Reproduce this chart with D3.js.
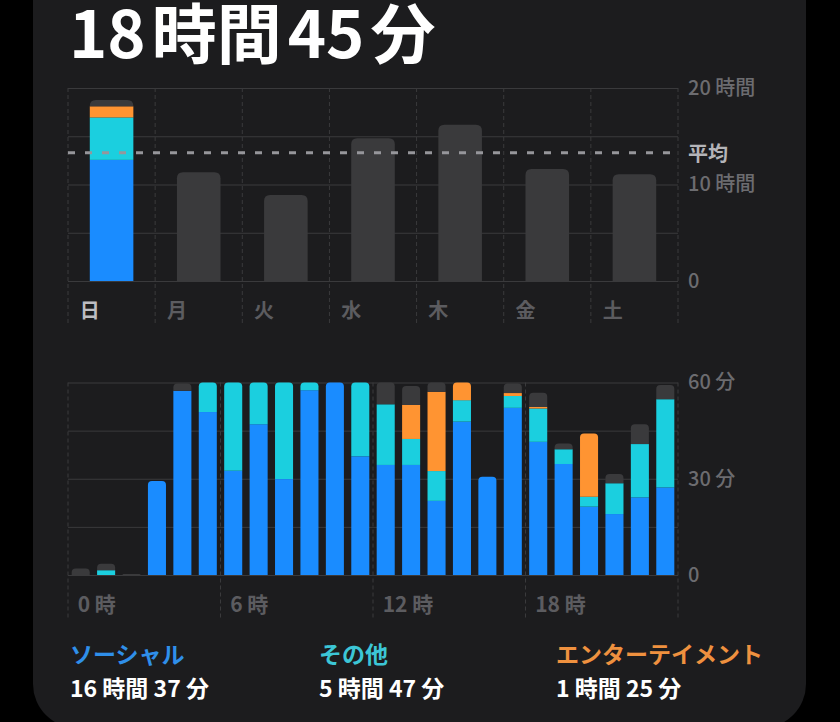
<!DOCTYPE html>
<html>
<head>
<meta charset="utf-8">
<script src="https://cdn.jsdelivr.net/npm/d3@7"></script>
<style>
  html, body { margin: 0; padding: 0; background: #000; }
  svg { display: block; font-family: "Noto Sans CJK JP", "Noto Sans", sans-serif; }
</style>
</head>
<body>
<svg id="chart"></svg>
<script>
// week chart (hours per day)
var days = ["日", "月", "火", "水", "木", "金", "土"];
var daySocial = [12.55, 0, 0, 0, 0, 0, 0];
var dayOther = [4.4, 0, 0, 0, 0, 0, 0];
var dayEnt = [1.15, 0, 0, 0, 0, 0, 0];
var dayRest = [0.65, 11.26, 8.9, 14.8, 16.2, 11.6, 11.05];
var dayAverage = 13.3;
var dayTicks = [0, 10, 20];

// hourly chart (minutes per hour)
var hours = d3.range(24);
var hourSocial = [0, 0, 0, 29.3, 57.4, 50.8, 32.5, 47, 29.9, 57.6, 60, 37, 34.3, 34.3, 23.1, 47.8, 30.6, 52.1, 41.5, 34.6, 21.3, 19, 24.2, 27.3];
var hourOther = [0, 1.5, 0, 0, 0, 9.2, 27.5, 13, 30.1, 2.4, 0, 23, 18.9, 8.1, 9.3, 6.7, 0, 3.7, 10.4, 4.6, 3.1, 9.6, 16.6, 27.5];
var hourEnt = [0, 0, 0, 0, 0, 0, 0, 0, 0, 0, 0, 0, 0, 10.6, 24.7, 5.5, 0, 0.9, 0.5, 0, 19.7, 0, 0, 0];
var hourRest = [2, 2, 0.3, 0, 2.3, 0, 0, 0, 0, 0, 0, 0, 6.8, 5.9, 2.9, 0, 0, 3, 4.4, 1.8, 0, 2.9, 6.2, 4.4];
var hourTicks = [0, 30, 60];
var hourLabels = [0, 6, 12, 18];

var legendNames = ["ソーシャル", "その他", "エンターテイメント"];
var legendTotals = ["16 時間 37 分", "5 時間 47 分", "1 時間 25 分"];
var totalTitle = ["18", "時間", "45", "分"];

var keys = ["social", "other", "ent", "rest"];
var colors = { social: "#1a8cff", other: "#1bcfdf", ent: "#ff9432", rest: "#3a3a3c" };
var legendColors = ["#2f8fea", "#3cc6d6", "#ef913f"];

var width = 840, height = 722;
var svg = d3.select("#chart").attr("width", width).attr("height", height);

// panel
svg.append("rect")
    .attr("x", 33).attr("y", -60)
    .attr("width", 773).attr("height", 788)
    .attr("rx", 44)
    .attr("fill", "#1c1c1e");

// title
var title = svg.append("text")
    .attr("x", 69).attr("y", 58)
    .attr("fill", "#ffffff")
    .style("font-size", "65px")
    .style("font-weight", 700);
title.selectAll("tspan").data(totalTitle).join("tspan")
    .attr("dx", function(d, i) { return i == 0 ? 0 : 6; })
    .text(function(d) { return d; });

function roundedTop(x, y, w, h, r)
{
    r = Math.min(r, h, w / 2);
    return "M" + x + "," + (y + h) +
        "V" + (y + r) +
        "Q" + x + "," + y + " " + (x + r) + "," + y +
        "H" + (x + w - r) +
        "Q" + (x + w) + "," + y + " " + (x + w) + "," + (y + r) +
        "V" + (y + h) + "Z";
}

function drawStack(g, rows, xScale, yScale, radius)
{
    var stacked = d3.stack().keys(keys)(rows);
    rows.forEach(function(row, i)
    {
        var segs = [];
        stacked.forEach(function(layer)
        {
            var s = layer[i];
            if (s[1] - s[0] > 0) segs.push({ key: layer.key, y0: s[0], y1: s[1] });
        });
        segs.forEach(function(s, j)
        {
            var x = xScale(row.label);
            var yTop = yScale(s.y1);
            var h = yScale(s.y0) - yTop;
            if (j == segs.length - 1)
            {
                g.append("path")
                    .attr("d", roundedTop(x, yTop, xScale.bandwidth(), h, radius))
                    .attr("fill", colors[s.key]);
            }
            else
            {
                g.append("rect")
                    .attr("x", x).attr("y", yTop)
                    .attr("width", xScale.bandwidth()).attr("height", h)
                    .attr("fill", colors[s.key]);
            }
        });
    });
}

var gridColor = "#3a3a3c";
var axisText = "#6c6c70";

// ---------- week chart ----------
var xDay = d3.scaleBand().domain(days).range([68, 678]).paddingInner(0.5).paddingOuter(0.25);
var yDay = d3.scaleLinear().domain([0, 20]).range([281, 88]);

var weekG = svg.append("g");
weekG.append("g")
    .attr("transform", "translate(68,0)")
    .call(d3.axisRight(yDay).tickValues([0, 5, 10, 15, 20]).tickSize(610).tickFormat(""))
    .call(function(g) { g.select(".domain").remove(); })
    .selectAll("line").attr("stroke", gridColor);

var dayBounds = d3.range(days.length + 1).map(function(i) { return xDay.range()[0] + i * xDay.step(); });
weekG.selectAll(".vgrid").data(dayBounds).join("line")
    .attr("x1", function(d) { return d; }).attr("x2", function(d) { return d; })
    .attr("y1", 88).attr("y2", 323)
    .attr("stroke", gridColor).attr("stroke-dasharray", "4,3");

var dayRows = days.map(function(d, i)
{
    return { label: d, social: daySocial[i], other: dayOther[i], ent: dayEnt[i], rest: dayRest[i] };
});
drawStack(weekG, dayRows, xDay, yDay, 6);

weekG.append("line")
    .attr("x1", 68).attr("x2", 678)
    .attr("y1", yDay(dayAverage)).attr("y2", yDay(dayAverage))
    .attr("stroke", "#96969b").attr("stroke-width", 3).attr("stroke-dasharray", "7,10");

weekG.append("g")
    .attr("transform", "translate(678,0)")
    .call(d3.axisRight(yDay).tickValues(dayTicks).tickSize(0).tickPadding(10)
        .tickFormat(function(d) { return d == 0 ? "0" : d + " 時間"; }))
    .call(function(g) { g.select(".domain").remove(); })
    .selectAll("text")
    .attr("fill", axisText)
    .style("font-size", "20px").style("font-weight", 500)
    .style("font-family", "'Noto Sans CJK JP', sans-serif");

weekG.append("text")
    .attr("x", 688).attr("y", yDay(dayAverage) + 8)
    .attr("fill", "#b4b4b8")
    .style("font-size", "20px").style("font-weight", 700)
    .text("平均");

weekG.selectAll(".daylabel").data(days).join("text")
    .attr("x", function(d) { return xDay(d) - 10; })
    .attr("y", 318)
    .attr("fill", function(d, i) { return i == 0 ? "#bdbdc2" : "#5c5c60"; })
    .style("font-size", "20px").style("font-weight", 700)
    .text(function(d) { return d; });

// ---------- hourly chart ----------
var xHour = d3.scaleBand().domain(hours).range([68, 678]).paddingInner(0.29).paddingOuter(0.145);
var yHour = d3.scaleLinear().domain([0, 60]).range([575, 382.5]);

var hourG = svg.append("g");
hourG.append("g")
    .attr("transform", "translate(68,0)")
    .call(d3.axisRight(yHour).tickValues([0, 15, 30, 45, 60]).tickSize(610).tickFormat(""))
    .call(function(g) { g.select(".domain").remove(); })
    .selectAll("line").attr("stroke", gridColor);

var hourBounds = [0, 6, 12, 18, 24].map(function(h) { return xHour.range()[0] + h * xHour.step(); });
hourG.selectAll(".vgrid").data(hourBounds).join("line")
    .attr("x1", function(d) { return d; }).attr("x2", function(d) { return d; })
    .attr("y1", 382.5).attr("y2", 618)
    .attr("stroke", gridColor).attr("stroke-dasharray", "4,3");

var hourRows = hours.map(function(h, i)
{
    return { label: h, social: hourSocial[i], other: hourOther[i], ent: hourEnt[i], rest: hourRest[i] };
});
drawStack(hourG, hourRows, xHour, yHour, 4);

hourG.append("g")
    .attr("transform", "translate(678,0)")
    .call(d3.axisRight(yHour).tickValues(hourTicks).tickSize(0).tickPadding(10)
        .tickFormat(function(d) { return d == 0 ? "0" : d + " 分"; }))
    .call(function(g) { g.select(".domain").remove(); })
    .selectAll("text")
    .attr("fill", axisText)
    .style("font-size", "20px").style("font-weight", 500)
    .style("font-family", "'Noto Sans CJK JP', sans-serif");

hourG.selectAll(".hourlabel").data(hourLabels).join("text")
    .attr("x", function(h) { return xHour(h) + 6; })
    .attr("y", 612)
    .attr("fill", "#5c5c60")
    .style("font-size", "21px").style("font-weight", 700)
    .text(function(h) { return h + " 時"; });

// ---------- legend ----------
var legendX = [70, 319, 556];
var legend = svg.append("g");
legend.selectAll(".lname").data(legendNames).join("text")
    .attr("x", function(d, i) { return legendX[i]; })
    .attr("y", 663)
    .attr("fill", function(d, i) { return legendColors[i]; })
    .style("font-size", "23px").style("font-weight", 700)
    .text(function(d) { return d; });
legend.selectAll(".ltotal").data(legendTotals).join("text")
    .attr("x", function(d, i) { return legendX[i]; })
    .attr("y", 697)
    .attr("fill", "#ffffff")
    .style("font-size", "23px").style("font-weight", 700)
    .text(function(d) { return d; });
</script>
</body>
</html>
